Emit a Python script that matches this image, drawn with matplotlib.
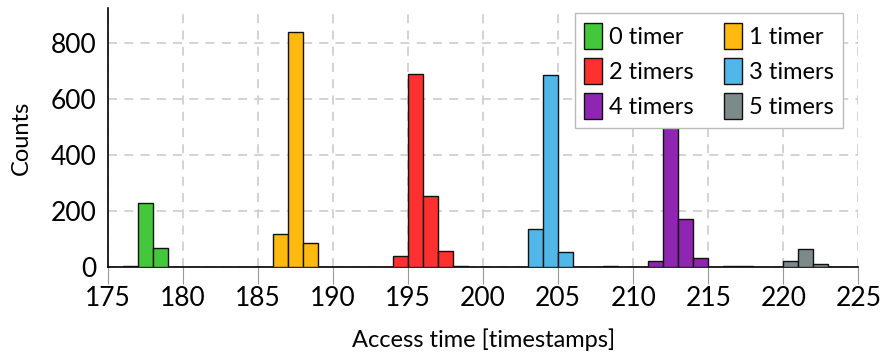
import matplotlib.pyplot as plt
import numpy as np

plt.rcParams['font.family'] = ['Lato', 'DejaVu Sans']

# bin left edges and counts for each series (bins are 1 timestamp wide)
labels = ['0 timer', '1 timer', '2 timers', '3 timers', '4 timers', '5 timers']
colors = ['#44c83b', '#ffb90f', '#ff3030', '#51b7e8', '#8e26b2', '#7d8a8a']

bins_0 = [176, 177, 178]
counts_0 = [5, 230, 68]
bins_1 = [186, 187, 188]
counts_1 = [118, 840, 86]
bins_2 = [194, 195, 196, 197, 198]
counts_2 = [40, 690, 255, 57, 4]
bins_3 = [203, 204, 205, 208]
counts_3 = [135, 685, 55, 2]
bins_4 = [211, 212, 213, 214, 216, 217]
counts_4 = [22, 640, 171, 33, 3, 2]
bins_5 = [220, 221, 222]
counts_5 = [21, 63, 11]

all_bins = [bins_0, bins_1, bins_2, bins_3, bins_4, bins_5]
all_counts = [counts_0, counts_1, counts_2, counts_3, counts_4, counts_5]

fig = plt.figure(figsize=(8.84, 3.55), dpi=100)
ax = fig.add_axes([0.122, 0.248, 0.849, 0.729])

bars = []
for b, c, col, lab in zip(all_bins, all_counts, colors, labels):
    h = ax.bar(b, c, width=1, align='edge', color=col, edgecolor='#111111',
               linewidth=1.0, label=lab, zorder=3)
    bars.append(h)

ax.set_xlim(175, 225)
ax.set_ylim(0, 925)
ax.set_xticks(np.arange(175, 226, 5))
ax.set_yticks([0, 200, 400, 600, 800])

ax.grid(True, color='#d0d0d0', linestyle=(0, (5, 4)), linewidth=1.3, zorder=0)
ax.spines['top'].set_visible(False)
ax.spines['right'].set_visible(False)
ax.spines['left'].set_linewidth(1.2)
ax.spines['bottom'].set_linewidth(1.2)
ax.tick_params(axis='x', direction='out', length=12, color='#999999',
               labelsize=19, pad=2)
ax.tick_params(axis='y', length=0, labelsize=19, pad=8)

ax.set_xlabel('Access time [timestamps]', fontsize=17, labelpad=12)
ax.set_ylabel('Counts', fontsize=17, labelpad=14)

# row-wise order in a 2-column legend
order = [0, 2, 4, 1, 3, 5]
leg = ax.legend([bars[i] for i in order], [labels[i] for i in order],
                ncol=2, loc='upper right', bbox_to_anchor=(0.98, 0.98),
                borderaxespad=0,
                fontsize=17, fancybox=False, framealpha=1,
                edgecolor='#bbbbbb', handlelength=0.75, handleheight=1.3,
                handletextpad=0.3, columnspacing=1.3, labelspacing=0.4,
                borderpad=0.4)
leg.get_frame().set_linewidth(1.0)
leg.set_zorder(5)

fig.savefig('out.png', dpi=100)
